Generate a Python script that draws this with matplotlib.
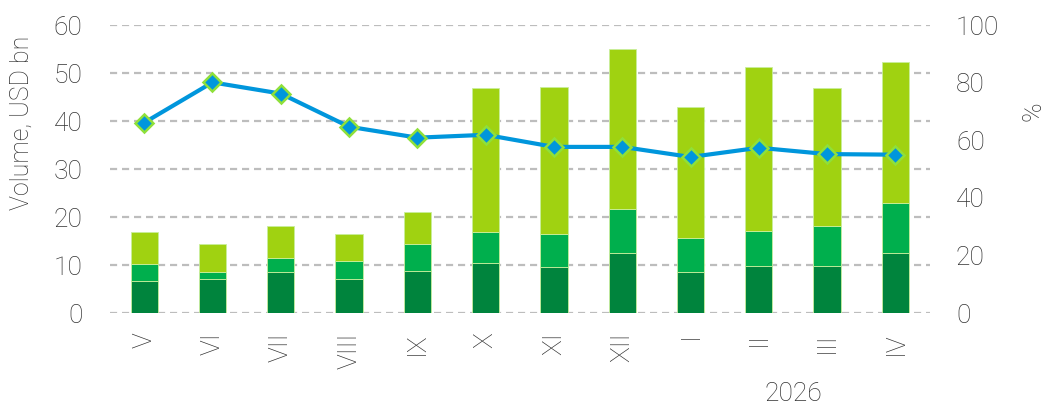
import numpy as np
import matplotlib.pyplot as plt

plt.rcParams['font.family'] = ['Roboto', 'DejaVu Sans']

months = ['V', 'VI', 'VII', 'VIII', 'IX', 'X', 'XI', 'XII', 'I', 'II', 'III', 'IV']
# stacked volumes, USD bn
dark = [6.7, 7.0, 8.6, 7.0, 8.8, 10.5, 9.5, 12.6, 8.5, 9.8, 9.9, 12.6]
mid = [3.6, 1.6, 2.9, 3.9, 5.6, 6.4, 7.0, 9.1, 7.2, 7.3, 8.3, 10.4]
light = [6.6, 5.7, 6.6, 5.6, 6.6, 30.0, 30.6, 33.4, 27.2, 34.1, 28.7, 29.4]
share = [66.1, 80.1, 76.2, 64.7, 60.9, 61.9, 57.7, 57.7, 54.2, 57.4, 55.2, 55.0]

txt = '#333333'
fw = 'light'

fig = plt.figure(figsize=(10.48, 4.04), dpi=100)
ax = fig.add_axes([0.105, 0.225, 0.782, 0.713])
ax2 = ax.twinx()

x = np.arange(len(months))
w = 0.4
ec = '#c9ef9c'
ax.bar(x, dark, w, color='#00843d', edgecolor=ec, linewidth=0.6, zorder=2)
ax.bar(x, mid, w, bottom=dark, color='#00af4d', edgecolor=ec, linewidth=0.6, zorder=2)
bot2 = np.array(dark) + np.array(mid)
ax.bar(x, light, w, bottom=bot2, color='#a0d211', edgecolor=ec, linewidth=0.6, zorder=2)

ax2.plot(x, share, color='#0096dc', lw=3, marker='D', ms=9,
         mfc='#0096dc', mec='#8fe03a', mew=1.8, zorder=3)

ax.set_xlim(-0.5, 11.5)
ax.set_ylim(0, 60)
ax2.set_ylim(0, 100)
ax.set_yticks(range(0, 61, 10))
ax2.set_yticks(range(0, 101, 20))
ax.yaxis.grid(True, color='#bdbdbd', lw=1.6, linestyle=(0, (3.2, 2.2)), zorder=0)
ax.set_axisbelow(True)

for a in (ax, ax2):
    for s in a.spines.values():
        s.set_visible(False)
    a.tick_params(length=0, labelsize=19, labelcolor=txt)

ax.tick_params(axis='y', pad=20)
ax2.tick_params(axis='y', pad=19)
ax.tick_params(axis='x', pad=14)
ax.set_xticks(x)
ax.set_xticklabels(months, rotation=90, fontweight=fw)
for t in ax.get_yticklabels() + ax2.get_yticklabels():
    t.set_fontweight(fw)

ax.set_ylabel('Volume, USD bn', fontsize=18, color=txt, fontweight=fw)
ax.yaxis.set_label_coords(-0.093, 0.66)
ax2.set_ylabel('%', fontsize=19, color=txt, fontweight=fw)
ax2.yaxis.set_label_coords(1.112, 0.70)

ax.text(9.5, -0.28, '2026', transform=ax.get_xaxis_transform(), ha='center',
        va='center', fontsize=19, color=txt, fontweight=fw)

ax.set_zorder(ax2.get_zorder() - 1)
ax2.patch.set_visible(False)
ax.patch.set_visible(True)

fig.savefig('out.png', dpi=100)
